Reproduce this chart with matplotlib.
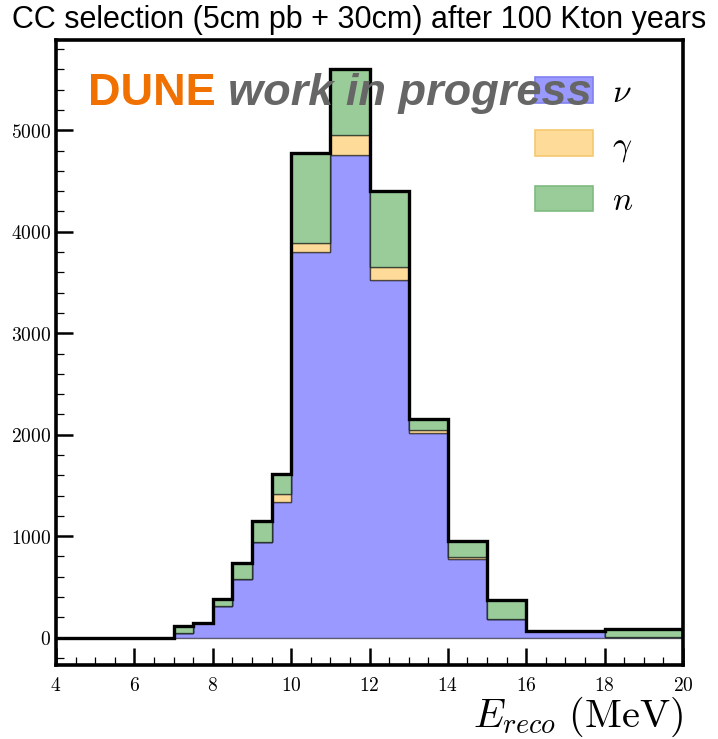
import matplotlib
matplotlib.use("Agg")
import matplotlib.pyplot as plt
import numpy as np
from matplotlib.patches import Patch
from matplotlib.ticker import MultipleLocator, FuncFormatter

# ---- data ----
edges = [4, 7, 7.5, 8, 8.5, 9, 9.5, 10, 11, 12, 13, 14, 15, 16, 18, 20]
nu    = [0, 43, 142, 312, 575, 946, 1337, 3800, 4753, 3524, 2020, 775, 184, 66, 10]
gamma = [0, 0, 0, 0, 0, 0, 79, 86, 205, 125, 26, 23, 0, 0, 0]
neut  = [0, 72, 0, 66, 164, 204, 200, 892, 642, 752, 106, 158, 187, 0, 73]
labels = [r'$\nu$', r'$\gamma$', r'$n$']
colors = ['#9999ff', '#ffdb99', '#99cc99']
edge_cols = ['#8080f0', '#f5c870', '#80bb80']
title = "CC selection (5cm pb + 30cm) after 100 Kton years"

plt.rcParams['mathtext.fontset'] = 'cm'

fig = plt.figure(figsize=(7.18, 7.39), dpi=100)
ax = fig.add_axes([56/718, 1-665/739, (683-56)/718, (665-40)/739])

e = np.array(edges, dtype=float)
layers = [np.array(nu, float), np.array(gamma, float), np.array(neut, float)]
base = np.zeros(len(nu))
for vals, c in zip(layers, colors):
    ax.stairs(base + vals, e, baseline=base.copy(), fill=True, facecolor=c,
              edgecolor=(0, 0, 0, 0.55), linewidth=1.0, zorder=2)
    base = base + vals
ax.stairs(base, e, baseline=0, fill=False, color='black', linewidth=2.4, zorder=3)

ax.set_xlim(4, 20)
ax.set_ylim(-270, 5890)

for s in ax.spines.values():
    s.set_linewidth(2.6)

ax.xaxis.set_major_locator(MultipleLocator(2))
ax.xaxis.set_minor_locator(MultipleLocator(0.5))
ax.yaxis.set_major_locator(MultipleLocator(1000))
ax.yaxis.set_minor_locator(MultipleLocator(200))
ax.tick_params(which='major', direction='in', length=12, width=1.8, labelsize=14,
               top=False, right=False)
ax.tick_params(which='minor', direction='in', length=5.5, width=0.9,
               top=False, right=False)
ax.tick_params(axis='x', which='major', pad=8)
fmt = FuncFormatter(lambda v, p: r'$%d$' % int(round(v)))
ax.xaxis.set_major_formatter(fmt)
ax.yaxis.set_major_formatter(fmt)

ax.set_xlabel(r'$E_{reco}\ (\mathrm{MeV})$', fontsize=29, loc='right', labelpad=0)

handles = [Patch(facecolor=c, edgecolor=ec, linewidth=1.2) for c, ec in zip(colors, edge_cols)]
leg = ax.legend(handles, labels, loc='upper right', frameon=False, fontsize=24,
                handlelength=1.75, handleheight=0.8, labelspacing=0.6,
                handletextpad=0.58, borderaxespad=0.5, bbox_to_anchor=(0.969, 0.991))
leg.set_zorder(4)

ax.text((88-56)/627, (665-105)/625, 'DUNE', transform=ax.transAxes,
        fontsize=32.5, fontweight='bold', color='#f07000', family='Liberation Sans',
        va='baseline', ha='left', zorder=6)
ax.text((228-56)/627, (665-105)/625, 'work in progress', transform=ax.transAxes,
        fontsize=32.5, fontweight='bold', style='italic', color='#666666',
        family='Liberation Sans', va='baseline', ha='left', zorder=6)

fig.text(0.5, 1-20/739, title, ha='center', va='center', fontsize=22,
         family='Liberation Sans')

fig.savefig('out.png', dpi=100)
